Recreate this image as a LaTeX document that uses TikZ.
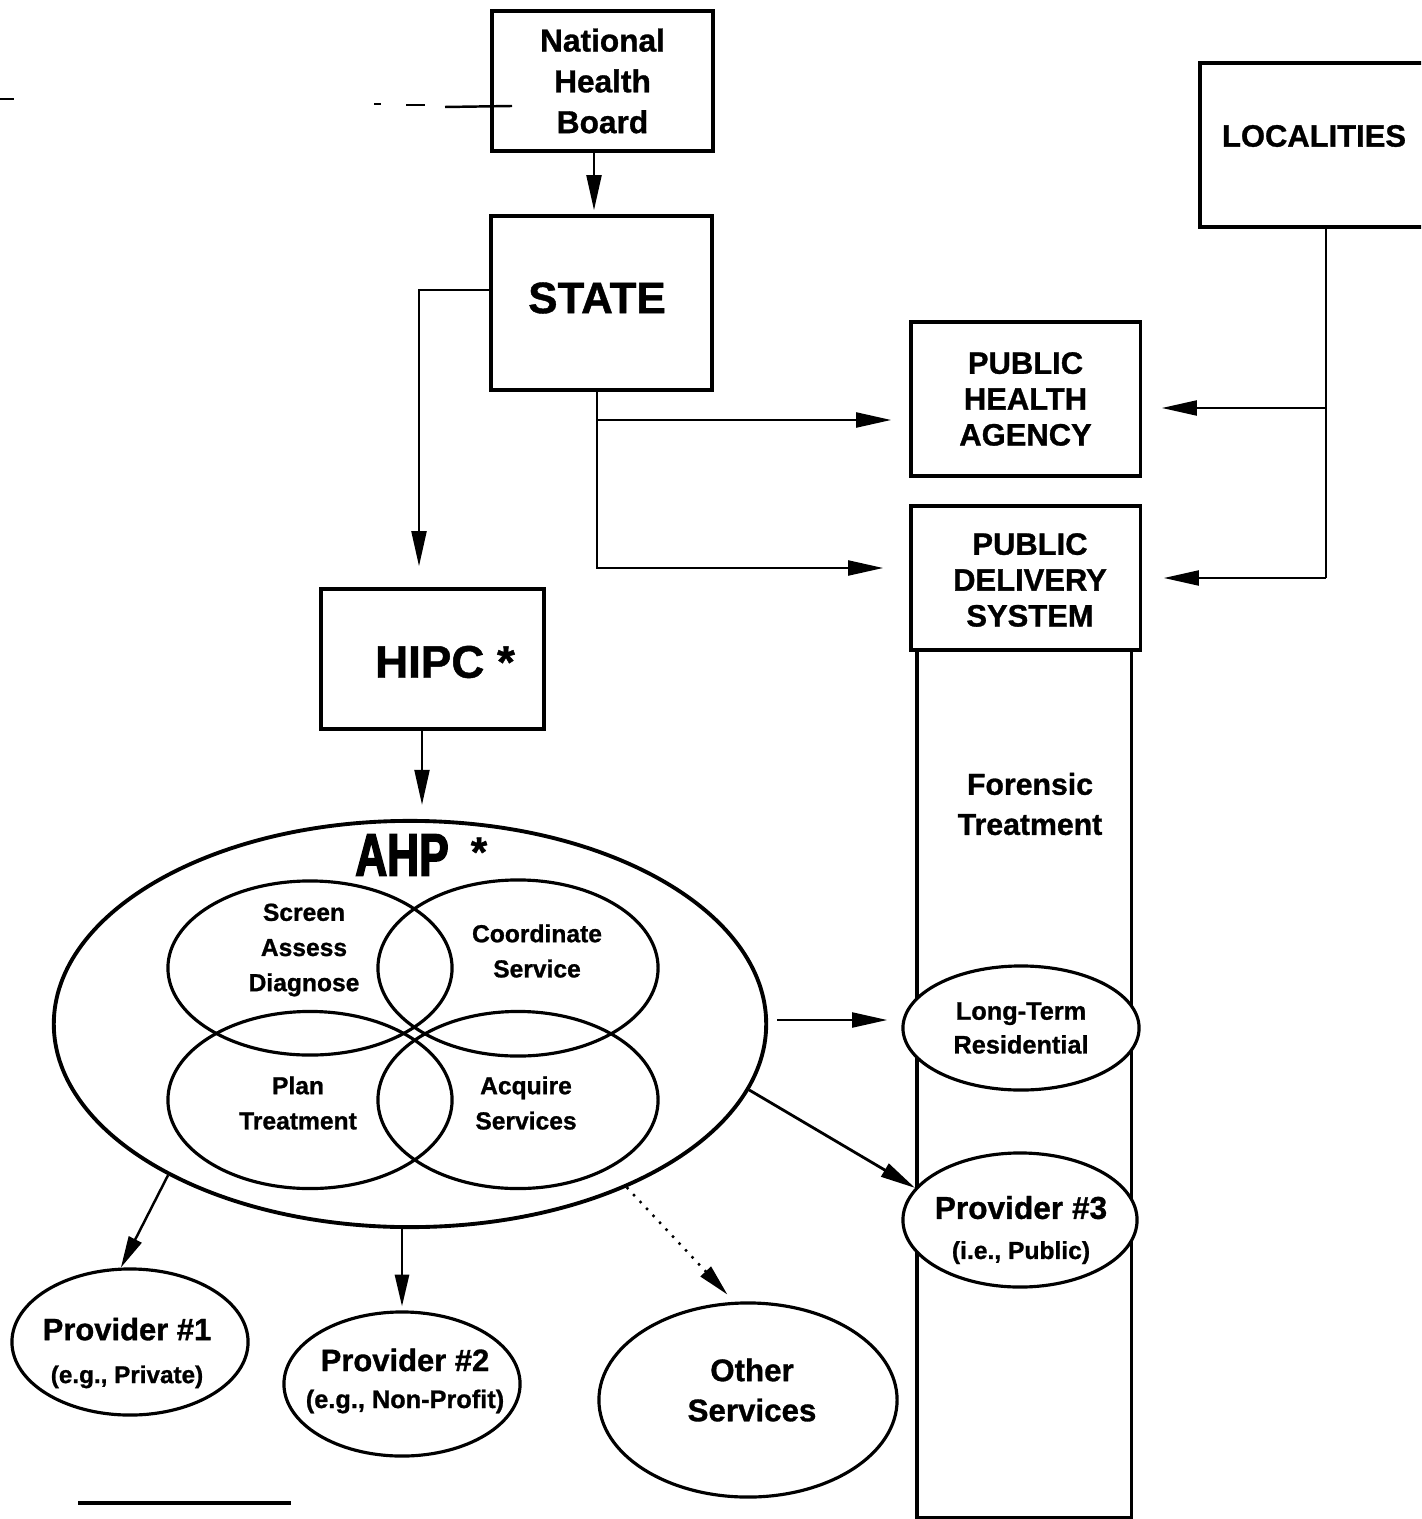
\documentclass[tikz,border=0pt]{standalone}
\usepackage{fontspec}
\setmainfont{Liberation Sans}[BoldFeatures={FakeBold=1}]
\newfontfamily\ahpfont{Liberation Sans}[FakeStretch=0.74,BoldFeatures={FakeBold=2.5}]
\usetikzlibrary{shapes.geometric,arrows.meta,calc}
\begin{document}
\begin{tikzpicture}[x=0.01cm,y=-0.01cm,
  box/.style={draw,line width=0.9pt,inner sep=0pt,align=center},
  oval/.style={draw,ellipse,line width=0.9pt,inner sep=0pt,align=center},
  lbl/.style={align=center,inner sep=0pt},
  conn/.style={line width=0.8pt},
  arr/.style={line width=0.8pt,-{Triangle[length=10pt,width=4.2pt]}},
  sarr/.style={line width=0.7pt,-{Triangle[length=9pt,width=4pt]}},
  fbig/.style={font=\bfseries\fontsize{9}{11.6}\selectfont},
  fcap/.style={font=\bfseries\fontsize{8.8}{10.2}\selectfont},
  fsmall/.style={font=\bfseries\fontsize{7}{10}\selectfont},
  straymark/.style={line width=0.7pt}
]
\useasboundingbox (0,0) rectangle (1421,1519);
\clip (0,0) rectangle (1421,1519);

% top boxes
\node[box,fbig,minimum width=2.21cm,minimum height=1.40cm] (nhb) at (602.5,81) {National\\Health\\Board};
\node[box,minimum width=2.21cm,minimum height=1.74cm] (state) at (601.5,303) {};
\node[lbl,font=\bfseries\fontsize{12.5}{14}\selectfont] (statetxt) at (597,298) {STATE};
\node[box,minimum width=2.30cm,minimum height=1.64cm] (loc) at (1315,145) {};
\node[lbl,fcap] (loctxt) at (1314,136) {LOCALITIES};
\node[box,fcap,minimum width=2.29cm,minimum height=1.54cm] (pha) at (1025.5,399) {PUBLIC\\HEALTH\\AGENCY};
\node[box,minimum width=2.29cm,minimum height=1.44cm] (pds) at (1025.5,578) {};
\node[lbl,fcap] (pdstxt) at (1030,580) {PUBLIC\\DELIVERY\\SYSTEM};
\node[box,minimum width=2.14cm,minimum height=8.67cm] (col) at (1024,1083.5) {};
\node[lbl,font=\bfseries\fontsize{8.6}{11.4}\selectfont] (forensic) at (1030,804) {Forensic\\Treatment};
\node[box,minimum width=2.23cm,minimum height=1.40cm] (hipc) at (432.5,659) {};
\node[lbl,font=\bfseries\fontsize{13}{14}\selectfont] (hipctxt) at (445,662) {HIPC *};

% AHP
\node[oval,line width=1.1pt,minimum width=7.12cm,minimum height=4.06cm] (ahp) at (410,1024) {};
\node[lbl,font=\ahpfont\bfseries\fontsize{17}{17}\selectfont] (ahplbl) at (402,855) {AHP};
\node[lbl,font=\bfseries\fontsize{12}{12}\selectfont] (ahpstar) at (479,852) {*};
\node[oval,minimum width=2.84cm,minimum height=1.74cm] (screen) at (310,968) {};
\node[oval,minimum width=2.80cm,minimum height=1.76cm] (coord) at (518,968) {};
\node[oval,minimum width=2.84cm,minimum height=1.77cm] (plan) at (310,1100) {};
\node[oval,minimum width=2.80cm,minimum height=1.77cm] (acq) at (518,1100) {};
\node[lbl,fsmall] (screentxt) at (304,950) {Screen\\Assess\\Diagnose};
\node[lbl,fsmall] (coordtxt) at (537,951) {Coordinate\\Service};
\node[lbl,fsmall] (plantxt) at (298,1103) {Plan\\Treatment};
\node[lbl,fsmall] (acqtxt) at (526,1103) {Acquire\\Services};

% right ellipses
\node[oval,fill=white,minimum width=2.36cm,minimum height=1.24cm,font=\bfseries\fontsize{7.2}{9.6}\selectfont] (ltr) at (1021,1028) {Long-Term\\Residential};
\node[oval,fill=white,minimum width=2.34cm,minimum height=1.34cm] (p3) at (1020,1220) {};
\node[lbl,font=\bfseries\fontsize{9}{11.4}\selectfont] (p3txt) at (1021,1230) {Provider \#3\\{\fontsize{7}{11.4}\selectfont (i.e., Public)}};

% bottom ellipses
\node[oval,minimum width=2.36cm,minimum height=1.46cm] (p1) at (130,1342) {};
\node[lbl,font=\bfseries\fontsize{8.8}{12.2}\selectfont] (p1txt) at (127,1353) {Provider \#1\\{\fontsize{6.9}{12.2}\selectfont (e.g., Private)}};
\node[oval,minimum width=2.36cm,minimum height=1.44cm] (p2) at (402,1384) {};
\node[lbl,font=\bfseries\fontsize{8.8}{10.5}\selectfont] (p2txt) at (405,1381) {Provider \#2\\{\fontsize{7.2}{10.5}\selectfont (e.g., Non-Profit)}};
\node[oval,minimum width=2.98cm,minimum height=1.94cm] (oth) at (748,1400) {};
\node[lbl,font=\bfseries\fontsize{8.9}{11.4}\selectfont] (othtxt) at (752,1390) {Other\\Services};

% helper coordinates
\coordinate (s1) at (419,290);
\coordinate (b1) at (597,420);
\coordinate (b2) at (597,568);
\coordinate (l1) at (1326,408);
\coordinate (l2) at (1326,578);
\coordinate (a1) at (422,805);

% connectors
\draw[arr,shorten >=0.04cm] (nhb.south -| 594,0) -- (state.north -| 594,0);
\draw[arr,shorten >=0.21cm] (state.west |- s1) -- (s1) -- (hipc.north -| s1);
\draw[arr,shorten >=0.18cm] (state.south -| b1) |- (pha.west |- b1);
\draw[arr,shorten >=0.26cm] (state.south -| b2) |- (pds.west |- b2);
\draw[conn] (loc.south -| l1) -- (l2);
\draw[arr,shorten >=0.20cm] (l1) -- (pha.east |- l1);
\draw[arr,shorten >=0.22cm] (l2) -- (pds.east |- l2);
\draw[arr] (hipc.south -| a1) -- (a1);
\draw[arr,shorten <=0.09cm,shorten >=0.14cm] (ahp.east |- 0,1020) -- (ltr.west |- 0,1020);
\draw[arr] (ahp.-11.5) -- (p3.163);
\draw[sarr] (ahp.-148.3) -- (p1.97);
\draw[sarr,shorten >=0.04cm] (ahp.south -| p2.north) -- (p2.north);
\draw[sarr,dotted,shorten >=0.10cm] (ahp.-37.3) -- (oth.98);

% stray marks and footnote rule
\draw[straymark] (0,99) -- (14,99);
\draw[straymark] (374,104) -- (381,104);
\draw[straymark] (406,105) -- (425,105);
\draw[straymark] (445,107) -- (512,106);
\draw[line width=1pt] (78,1503) -- (291,1503);
\end{tikzpicture}
\end{document}
